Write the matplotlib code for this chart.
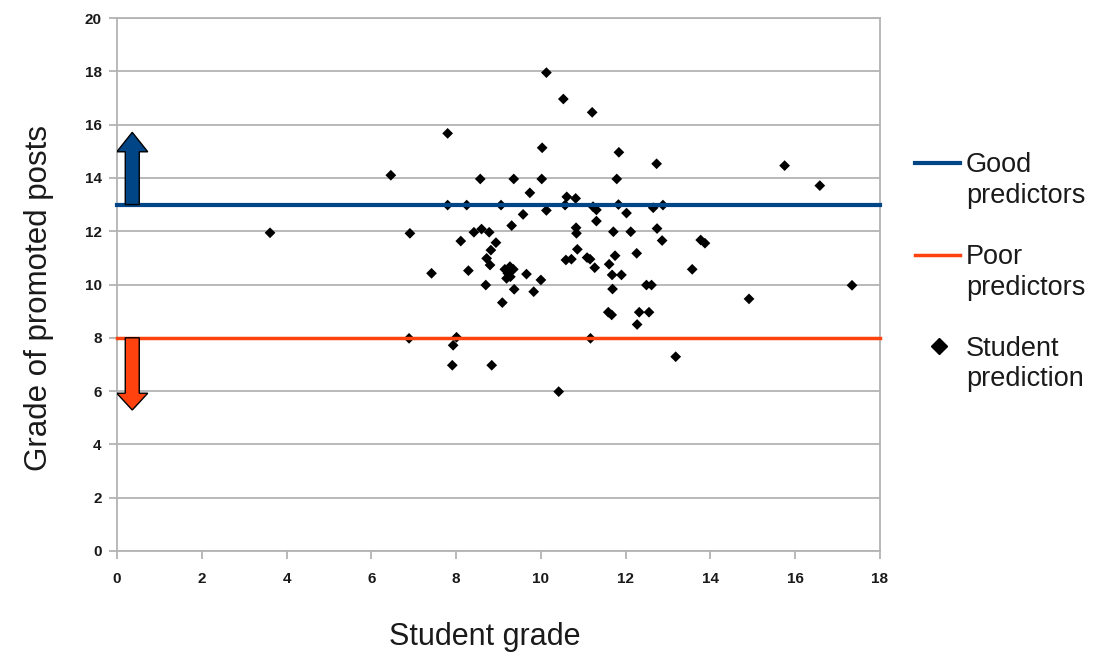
import matplotlib
matplotlib.use("Agg")
import matplotlib.pyplot as plt
from matplotlib.patches import FancyArrow
from matplotlib.lines import Line2D

plt.rcParams['font.family'] = ['Liberation Sans', 'DejaVu Sans']

# ---- data ----
student_grade = [3.61, 6.46, 6.91, 6.89, 7.42, 7.80, 7.80, 7.91, 7.93, 8.01,
                 8.11, 8.25, 8.29, 8.42, 8.57, 8.60, 8.70, 8.72, 8.78, 8.80,
                 8.82, 8.84, 8.94, 9.06, 9.09, 9.15, 9.19, 9.22, 9.27, 9.28,
                 9.35, 9.31, 9.36, 9.37, 9.58, 9.66, 9.74, 9.83, 10.00, 10.02,
                 10.03, 10.13, 10.13, 10.42, 10.53, 10.57, 10.59, 10.61, 10.72, 10.82,
                 10.83, 10.84, 10.86, 11.09, 11.16, 11.17, 11.21, 11.23, 11.27, 11.31,
                 11.31, 11.59, 11.61, 11.67, 11.68, 11.69, 11.71, 11.75, 11.79, 11.83,
                 11.84, 11.90, 12.02, 12.12, 12.26, 12.27, 12.32, 12.49, 12.55, 12.61,
                 12.65, 12.73, 12.74, 12.86, 12.88, 13.18, 13.57, 13.77, 13.87, 14.91,
                 15.75, 16.58, 17.34]
promoted_grade = [11.94, 14.10, 11.92, 7.98, 10.42, 15.67, 12.98, 6.97, 7.72, 8.02,
                  11.63, 12.98, 10.52, 11.96, 13.96, 12.08, 9.98, 10.98, 11.96, 10.73,
                  11.29, 6.97, 11.57, 12.98, 9.32, 10.57, 10.23, 10.42, 10.67, 10.29,
                  10.57, 12.21, 13.96, 9.82, 12.63, 10.39, 13.44, 9.73, 10.17, 13.96,
                  15.13, 17.95, 12.78, 5.98, 16.96, 12.98, 10.92, 13.29, 10.95, 13.23,
                  12.13, 11.92, 11.32, 11.01, 10.95, 7.98, 16.46, 12.92, 10.63, 12.80,
                  12.38, 8.96, 10.76, 8.86, 10.36, 9.83, 11.98, 11.08, 13.96, 13.00,
                  14.96, 10.36, 12.68, 11.98, 11.17, 8.50, 8.96, 9.98, 8.96, 9.98,
                  12.88, 14.53, 12.10, 11.65, 12.98, 7.29, 10.57, 11.67, 11.55, 9.46,
                  14.46, 13.71, 9.97]
good_threshold = 13
poor_threshold = 8
good_arrow_top = 15.71
poor_arrow_bottom = 5.29
x_ticks = [0, 2, 4, 6, 8, 10, 12, 14, 16, 18]
y_ticks = [0, 2, 4, 6, 8, 10, 12, 14, 16, 18, 20]
legend_labels = ["Good\npredictors", "Poor\npredictors", "Student\nprediction"]

BLUE = '#004586'
ORANGE = '#ff420e'
GRID = '#b3b3b3'

W, H = 1099, 653
fig = plt.figure(figsize=(W / 100, H / 100), dpi=100)
ax = fig.add_axes([117 / W, 1 - 551 / H, (880 - 117) / W, (551 - 18) / H])

ax.set_xlim(0, 18)
ax.set_ylim(0, 20)
ax.set_xticks(x_ticks)
ax.set_yticks(y_ticks)
ax.yaxis.grid(True, color=GRID, lw=1.3, zorder=0)
ax.set_axisbelow(True)
for s in ax.spines.values():
    s.set_color(GRID)
    s.set_linewidth(1.3)
ax.tick_params(axis='both', colors=GRID, length=6, width=1.3, labelcolor='#1a1a1a',
               labelsize=11)
ax.tick_params(axis='x', pad=9)
ax.tick_params(axis='y', pad=5)
for lab in ax.get_xticklabels() + ax.get_yticklabels():
    lab.set_fontweight('bold')

ax.scatter(student_grade, promoted_grade, marker='D', s=30, color='black',
           edgecolors='none', zorder=3)
ax.axhline(good_threshold, color=BLUE, lw=3, zorder=4, clip_on=False)
ax.axhline(poor_threshold, color=ORANGE, lw=2.5, zorder=4, clip_on=False)

ax.add_patch(FancyArrow(0.36, good_threshold, 0, good_arrow_top - good_threshold,
                        width=0.33, head_width=0.73, head_length=0.73,
                        length_includes_head=True, facecolor=BLUE, edgecolor='black',
                        lw=1.0, zorder=5))
ax.add_patch(FancyArrow(0.36, poor_threshold, 0, poor_arrow_bottom - poor_threshold,
                        width=0.33, head_width=0.73, head_length=0.63,
                        length_includes_head=True, facecolor=ORANGE, edgecolor='black',
                        lw=1.0, zorder=5))

ax.set_xlabel("Student grade", fontsize=22, color='#1a1a1a', labelpad=26)
ax.set_ylabel("Grade of promoted posts", fontsize=22.5, color='#1a1a1a', labelpad=22)
ax.xaxis.label.set_x(0.482)
ax.yaxis.label.set_y(0.474)

# ---- legend (drawn manually to match layout) ----
fig.add_artist(Line2D([915 / W, 960 / W], [1 - 163 / H] * 2, color=BLUE, lw=3))
fig.add_artist(Line2D([915 / W, 960 / W], [1 - 255 / H] * 2, color=ORANGE, lw=2.5))
fig.add_artist(Line2D([939 / W], [1 - 346 / H], marker='D', markersize=8,
                      color='black', lw=0))
for lab, yc in zip(legend_labels, [180, 272, 364]):
    fig.text(966 / W, 1 - yc / H, lab, fontsize=19.5, color='#1a1a1a',
             va='center', ha='left', linespacing=1.25)

fig.savefig("out.png", dpi=100)
